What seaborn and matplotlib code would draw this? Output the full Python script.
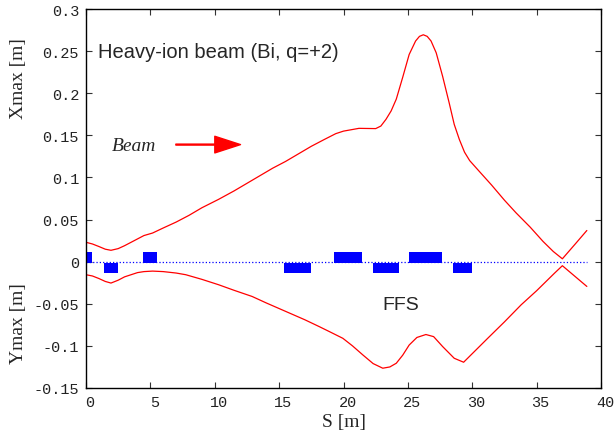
import matplotlib
matplotlib.use("Agg")
import matplotlib.pyplot as plt
import matplotlib.transforms as mtransforms
import seaborn as sns
import numpy as np

# ---- data ----
x_env_s = [0, 0.5, 1.0, 1.5, 1.94, 2.5, 3.0, 3.5, 4.0, 4.5, 5.17, 6, 7, 8, 9, 10.3,
           11.5, 12.5, 13.5, 14.5, 15.5, 16.5, 17.5, 18.5, 19.4, 20, 21.2, 22.5,
           22.9, 23.3, 23.7, 24.1, 24.6, 25.1, 25.6, 25.9, 26.2, 26.5, 26.8, 27.2,
           27.7, 28.2, 28.6, 29.0, 29.4, 29.8, 30.5, 31.5, 32.5, 33.4, 34.5, 35.5,
           36.3, 37.0, 38.0, 38.9]
x_env = [0.023, 0.021, 0.018, 0.0148, 0.0135, 0.0155, 0.019, 0.023, 0.027, 0.031, 0.034,
         0.040, 0.047, 0.055, 0.064, 0.074, 0.084, 0.093, 0.102, 0.111, 0.119, 0.128,
         0.137, 0.145, 0.152, 0.155, 0.1583, 0.158, 0.161, 0.169, 0.179, 0.193, 0.219,
         0.246, 0.262, 0.2675, 0.2694, 0.2675, 0.262, 0.248, 0.220, 0.189, 0.163,
         0.145, 0.130, 0.120, 0.108, 0.091, 0.073, 0.058, 0.041, 0.024, 0.012,
         0.0034, 0.021, 0.037]

y_env_s = [0, 0.5, 1.0, 1.5, 1.94, 2.5, 3.0, 3.5, 4.0, 4.5, 5.17, 6, 7, 7.75, 9, 10.3,
           11.5, 12.9, 14, 15.5, 17, 18.1, 18.9, 19.95, 20.7, 21.5, 22.3, 23.05, 23.6,
           24.1, 24.6, 25.1, 25.7, 26.4, 27.0, 27.7, 28.6, 29.33, 30.16, 31.2, 32.5,
           33.8, 35.0, 36.4, 37.0, 38.9]
y_env = [-0.0155, -0.017, -0.020, -0.0235, -0.0254, -0.022, -0.018, -0.0155, -0.013,
         -0.0118, -0.0112, -0.0118, -0.0135, -0.0155, -0.021, -0.0274, -0.034, -0.0413,
         -0.049, -0.059, -0.069, -0.077, -0.083, -0.091, -0.100, -0.1107, -0.121,
         -0.1265, -0.125, -0.1206, -0.111, -0.099, -0.090, -0.0865, -0.089, -0.1008,
         -0.1147, -0.1194, -0.1068, -0.091, -0.0715, -0.0512, -0.0345, -0.0135,
         -0.0048, -0.0294]

mag_start = [0.0, 1.4, 4.4, 15.35, 19.25, 22.3, 25.05, 28.5]
mag_end = [0.5, 2.5, 5.5, 17.5, 21.4, 24.3, 27.65, 30.0]
mag_sign = [1, -1, 1, -1, 1, -1, 1, -1]

xticks = [0, 5, 10, 15, 20, 25, 30, 35, 40]
xtick_labels = ["0", "5", "10", "15", "20", "25", "30", "35", "40"]
yticks = [-0.15, -0.1, -0.05, 0, 0.05, 0.1, 0.15, 0.2, 0.25, 0.3]
ytick_labels = ["-0.15", "-0.1", "-0.05", "0", "0.05", "0.1", "0.15", "0.2", "0.25", "0.3"]

# ---- figure ----
sns.set_style("ticks")
plt.rcParams["font.family"] = ["Liberation Sans", "DejaVu Sans"]

fig = plt.figure(figsize=(6.15, 4.31), dpi=100)
ax = fig.add_axes([86 / 615, 42 / 431, 515 / 615, 379 / 431])

sns.lineplot(x=x_env_s, y=x_env, ax=ax, color="red", lw=0.9, estimator=None, sort=False)
sns.lineplot(x=y_env_s, y=y_env, ax=ax, color="red", lw=0.9, estimator=None, sort=False)

ax.plot([0, 38.9], [0, 0], linestyle=":", color="blue", lw=0.9)

widths = [e - s for s, e in zip(mag_start, mag_end)]
bottoms = [-0.001 if sg > 0 else -0.0135 for sg in mag_sign]
ax.bar(mag_start, [0.0125] * len(mag_start), width=widths, bottom=bottoms,
       align="edge", color="blue", edgecolor="blue", lw=0)

ax.set_xlim(0, 40)
ax.set_ylim(-0.15, 0.3)
ax.set_xticks(xticks)
ax.set_xticklabels(xtick_labels)
ax.set_yticks(yticks)
ax.set_yticklabels(ytick_labels)
ax.tick_params(direction="in", top=True, right=True, length=4, width=0.8,
               color="#333333", labelsize=11, pad=5)
for lab in ax.get_xticklabels() + ax.get_yticklabels():
    lab.set_family("Liberation Mono")
    lab.set_color("#222222")
off = mtransforms.ScaledTranslation(4 / 100, 0, fig.dpi_scale_trans)
for lab in ax.get_xticklabels():
    lab.set_transform(lab.get_transform() + off)

for sp in ax.spines.values():
    sp.set_visible(True)
    sp.set_color("black")
    sp.set_linewidth(1.0)

ax.set_xlabel("S [m]", family="Liberation Serif", fontsize=14, labelpad=3)

trans = mtransforms.blended_transform_factory(ax.transAxes, ax.transData)
ax.text(-0.132, 0.218, "Xmax [m]", transform=trans, rotation=90, ha="center",
        va="center", family="Liberation Serif", fontsize=14)
ax.text(-0.132, -0.0726, "Ymax [m]", transform=trans, rotation=90, ha="center",
        va="center", family="Liberation Serif", fontsize=14)

ax.text(0.93, 0.25, "Heavy-ion beam (Bi, q=+2)", ha="left", va="center",
        family="Liberation Sans", fontsize=14.5)
ax.text(2.0, 0.1385, "Beam", ha="left", va="center", family="Liberation Serif",
        style="italic", fontsize=14)
ax.annotate("", xy=(12.0, 0.139), xytext=(6.98, 0.139),
            arrowprops=dict(facecolor="red", edgecolor="red", width=0.7,
                            headwidth=12, headlength=18.5, shrink=0))
ax.text(24.45, -0.0512, "FFS", ha="center", va="center", family="Liberation Sans",
        fontsize=14)

fig.savefig("out.png", dpi=100)
